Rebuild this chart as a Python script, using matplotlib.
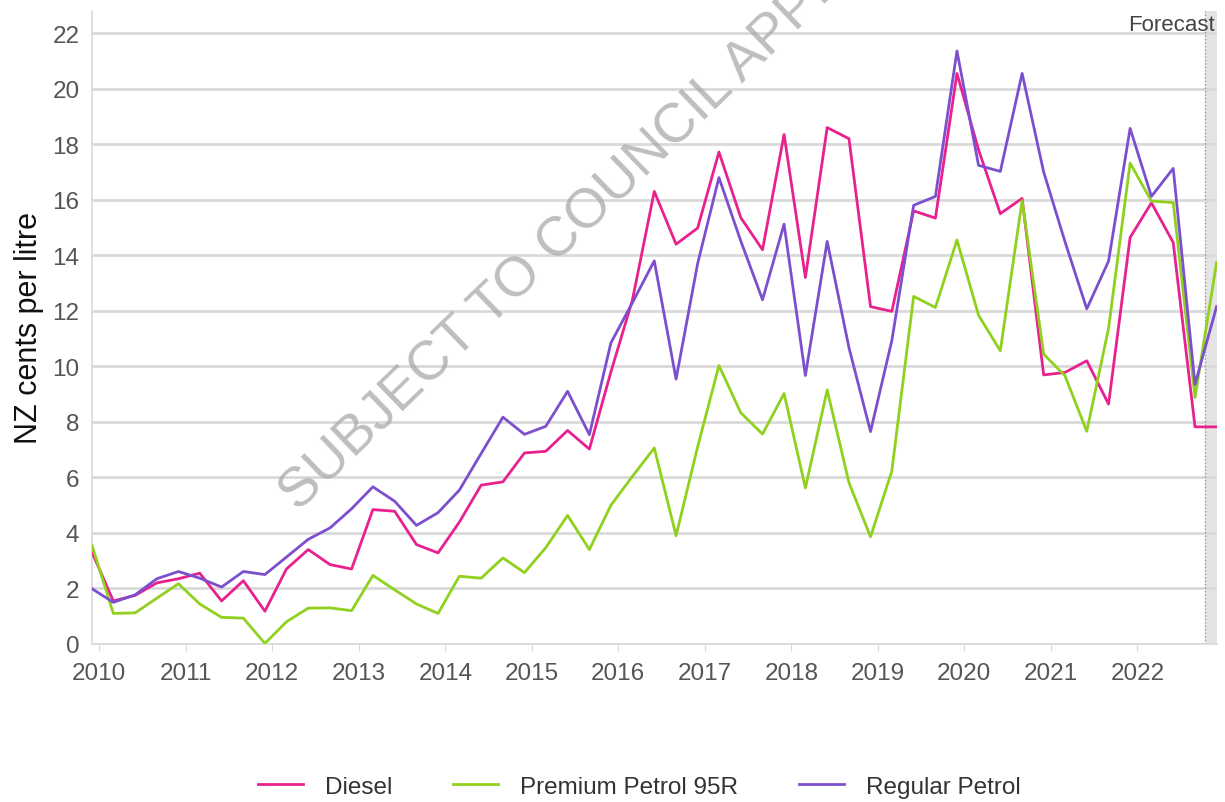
import matplotlib
matplotlib.use("Agg")
import matplotlib.pyplot as plt
import matplotlib.dates as mdates
import pandas as pd

plt.rcParams['font.family'] = ['Liberation Sans', 'DejaVu Sans']

# quarterly points, Dec 2009 through the Dec 2022 forecast
quarters = pd.date_range("2009-12-01", periods=53, freq="3MS")

diesel = [3.3, 1.55, 1.75, 2.2, 2.35, 2.55, 1.55, 2.28, 1.18, 2.7,
          3.4, 2.86, 2.7, 4.84, 4.78, 3.58, 3.28, 4.39, 5.72, 5.84,
          6.88, 6.94, 7.69, 7.02, 9.8, 12.4, 16.3, 14.4, 14.98, 17.72,
          15.36, 14.2, 18.35, 13.2, 18.6, 18.2, 12.15, 11.98, 15.6, 15.34,
          20.55, 17.8, 15.5, 16.05, 9.69, 9.78, 10.2, 8.64, 14.64, 15.89,
          14.46, 7.82, 7.82]
premium = [3.55, 1.1, 1.12, 1.65, 2.17, 1.44, 0.96, 0.93, 0.02, 0.8,
           1.29, 1.3, 1.2, 2.47, 1.95, 1.44, 1.1, 2.44, 2.37, 3.1,
           2.57, 3.47, 4.63, 3.4, 5.0, 6.04, 7.06, 3.9, 7.1, 10.03,
           8.33, 7.56, 9.02, 5.62, 9.15, 5.81, 3.86, 6.23, 12.52, 12.12,
           14.55, 11.84, 10.56, 15.97, 10.44, 9.66, 7.66, 11.37, 17.32, 15.95,
           15.9, 8.88, 13.74]
regular = [1.99, 1.5, 1.77, 2.35, 2.61, 2.37, 2.05, 2.61, 2.5, 3.13,
           3.77, 4.18, 4.87, 5.66, 5.14, 4.27, 4.73, 5.54, 6.86, 8.17,
           7.55, 7.84, 9.1, 7.54, 10.85, 12.3, 13.8, 9.54, 13.7, 16.8,
           14.52, 12.4, 15.12, 9.67, 14.5, 10.67, 7.65, 10.93, 15.8, 16.12,
           21.36, 17.24, 17.02, 20.55, 17.0, 14.49, 12.07, 13.79, 18.57, 16.12,
           17.13, 9.35, 12.15]

series_names = ["Diesel", "Premium Petrol 95R", "Regular Petrol"]
colors = ["#e8218f", "#8fd11e", "#7c4fcf"]
forecast_start = pd.Timestamp("2022-10-12")

fig = plt.figure(figsize=(12.25, 8.03), dpi=100)
ax = fig.add_axes([0.0751, 0.1968, 0.9184, 0.7883])

x_end = quarters[-1] + pd.Timedelta(days=2)

# forecast band
ax.axvspan(forecast_start, x_end, color="#e4e4e4", zorder=0, lw=0)
ax.axvline(forecast_start, color="#9a9a9a", ls=(0, (1, 1.5)), lw=1, zorder=1)

for vals, name, c in zip([diesel, premium, regular], series_names, colors):
    ax.plot(quarters, vals, color=c, lw=2, label=name, zorder=3)

ax.set_ylim(0, 22.8)
ax.set_xlim(quarters[0], x_end)
ax.set_yticks(range(0, 23, 2))
ax.yaxis.grid(True, color="#d9d9d9", lw=2)
ax.set_axisbelow(True)

ax.xaxis.set_major_locator(mdates.YearLocator())
ax.xaxis.set_major_formatter(mdates.DateFormatter("%Y"))

for s in ["top", "right"]:
    ax.spines[s].set_visible(False)
for s in ["left", "bottom"]:
    ax.spines[s].set_color("#d9d9d9")
    ax.spines[s].set_linewidth(1.2)

ax.tick_params(axis="y", length=0, labelsize=17.5, labelcolor="#555555", pad=9)
ax.tick_params(axis="x", length=5, color="#d9d9d9", labelsize=17.5, labelcolor="#555555", pad=8)
ax.set_ylabel("NZ cents per litre", fontsize=22, color="#111111", labelpad=6)

ax.text(0.998, 0.995, "Forecast", transform=ax.transAxes, ha="right", va="top",
        fontsize=16, color="#444444")

fig.legend(loc="center", bbox_to_anchor=(0.522, 0.0187), ncol=3, frameon=False,
           fontsize=17.5, handlelength=1.85, handletextpad=0.9, columnspacing=2.5,
           labelcolor="#333333")

# watermark
fig.text(0.244, 0.362, "SUBJECT TO COUNCIL APPROVAL", rotation=44, rotation_mode="anchor",
         ha="left", va="baseline", fontsize=40, color="#a8a8a8", alpha=0.75, zorder=10)

fig.savefig("out.png", dpi=100)
